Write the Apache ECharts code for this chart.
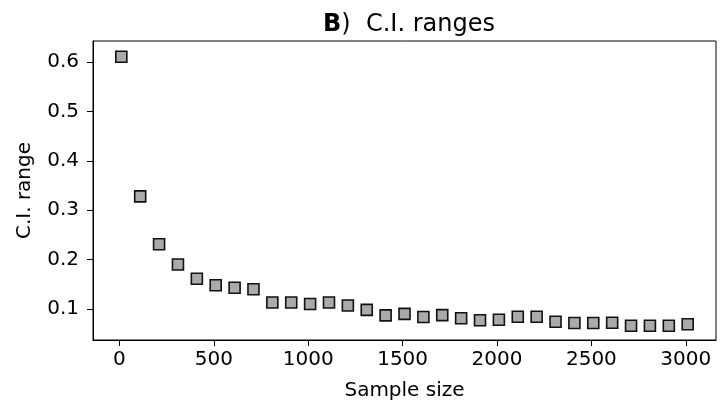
<!DOCTYPE html>
<html>
<head>
<meta charset="utf-8">
<script src="https://cdn.jsdelivr.net/npm/echarts@6/dist/echarts.min.js"></script>
<style>
  html, body { margin: 0; padding: 0; background: #fff; }
  #chart { width: 723px; height: 406px; }
</style>
</head>
<body>
<div id="chart"></div>
<script>
// sample sizes (x) and C.I. range (y)
const sampleSizes = [10, 110, 210, 310, 410, 510, 610, 710, 810, 910, 1010, 1110, 1210, 1310, 1410, 1510,
  1610, 1710, 1810, 1910, 2010, 2110, 2210, 2310, 2410, 2510, 2610, 2710, 2810, 2910, 3010]
const ciRange = [0.611, 0.328, 0.231, 0.190, 0.161, 0.148, 0.143, 0.140, 0.113, 0.113, 0.110, 0.113, 0.107, 0.098, 0.087, 0.090,
  0.0835, 0.0875, 0.081, 0.077, 0.078, 0.084, 0.084, 0.074, 0.0715, 0.0715, 0.072, 0.066, 0.066, 0.066, 0.069]
const xTicks = [0, 500, 1000, 1500, 2000, 2500, 3000]
const yTicks = [0.1, 0.2, 0.3, 0.4, 0.5, 0.6]

const font = 'DejaVu Sans'
const chart = echarts.init(document.getElementById('chart'))

chart.setOption({
  animation: false,
  title: {
    text: '{b|B})  C.I. ranges',
    left: 404,
    top: 8,
    textAlign: 'center',
    textStyle: {
      fontFamily: font,
      fontSize: 24,
      fontWeight: 'normal',
      color: '#000',
      rich: {
        b: { fontFamily: font, fontSize: 24, fontWeight: 'bold', color: '#000' }
      }
    }
  },
  grid: {
    left: 93, right: 7, top: 41, bottom: 64,
    show: true, borderColor: '#000', borderWidth: 1
  },
  xAxis: {
    type: 'value',
    min: -140, max: 3160,
    name: 'Sample size',
    nameLocation: 'middle',
    nameGap: 41,
    nameTextStyle: { fontFamily: font, fontSize: 20, color: '#000' },
    axisLine: { onZero: false, lineStyle: { color: '#000' } },
    axisTick: { show: true, length: 6, customValues: xTicks, lineStyle: { color: '#000' } },
    axisLabel: { customValues: xTicks, fontFamily: font, fontSize: 20, color: '#000', margin: 10,
      formatter: v => String(v) },
    splitLine: { show: false }
  },
  yAxis: {
    type: 'value',
    min: 0.037, max: 0.643,
    name: 'C.I. range',
    nameLocation: 'middle',
    nameGap: 58,
    nameTextStyle: { fontFamily: font, fontSize: 20, color: '#000' },
    axisLine: { onZero: false, lineStyle: { color: '#000' } },
    axisTick: { show: true, length: 6, customValues: yTicks, lineStyle: { color: '#000' } },
    axisLabel: { customValues: yTicks, fontFamily: font, fontSize: 20, color: '#000', margin: 14,
      formatter: v => v.toFixed(1) },
    splitLine: { show: false }
  },
  series: [{
    type: 'scatter',
    symbol: 'rect',
    symbolSize: 11,
    data: sampleSizes.map((x, i) => [x, ciRange[i]]),
    itemStyle: { color: '#aaaaaa', borderColor: '#111', borderWidth: 1.6, opacity: 1 }
  }]
})
</script>
</body>
</html>
